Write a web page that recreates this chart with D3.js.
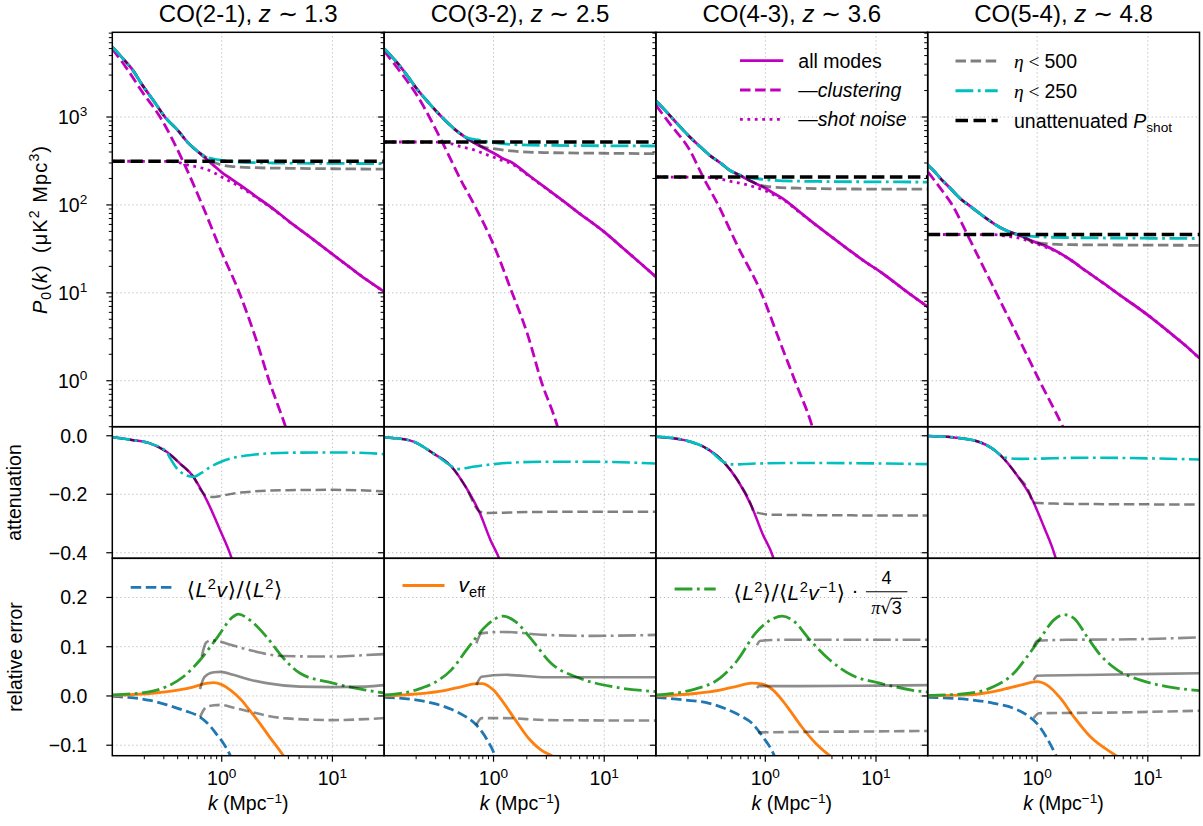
<!DOCTYPE html>
<html>
<head>
<meta charset="utf-8">
<script src="https://cdn.jsdelivr.net/npm/d3@7"></script>
<style>
  body { margin: 0; background: #fff; }
  svg text { font-family: "Liberation Sans", Arial, Helvetica, sans-serif; fill: #000; }
</style>
</head>
<body>
<svg id="fig" width="1203" height="826"></svg>
<script>
// ---------------------------------------------------------------------------
// Data: CO line-intensity power spectra, attenuation and relative errors
// for four CO transitions.  Every series is a list of [k (Mpc^-1), value].
// ---------------------------------------------------------------------------
const lineNames = ["CO(2-1)", "CO(3-2)", "CO(4-3)", "CO(5-4)"];
const redshifts = ["1.3", "2.5", "3.6", "4.8"];

const kDomain = [0.1027, 29.3];
const pDomain = [0.3, 9200];
const attDomain = [-0.419, 0.031];
const errDomain = [-0.1213, 0.2795];

const kTicks = [1, 10];
const pTicks = [1, 10, 100, 1000];
const attTicks = [0, -0.2, -0.4];
const errTicks = [-0.1, 0, 0.1, 0.2];

// unattenuated shot-noise level per line
const pShot = [314, 520, 208, 46.1];

// P0(k), all modes
const allModes = [
  [[0.103,6240],[0.118,5200],[0.135,4300],[0.155,3500],[0.19,2350],[0.25,1450],[0.31,985],[0.4,710],[0.5,505],[0.6,410],[0.72,337],[0.85,280],[1.0,235],[1.2,200],[1.45,170],[2.0,127],[3.0,88],[4.0,66],[6.0,45],[10,27.5],[15,18.7],[20,14.3],[29.3,10.3]],
  [[0.103,5990],[0.12,4900],[0.137,4040],[0.16,3150],[0.208,2010],[0.26,1450],[0.315,1110],[0.4,820],[0.477,676],[0.55,596],[0.65,520],[0.8,450],[1.0,390],[1.2,340],[1.44,308],[2.0,226],[2.88,160],[4.0,118],[5.75,83],[10,49.3],[15,31.7],[20,23.2],[29.3,15.2]],
  [[0.103,1520],[0.12,1250],[0.137,1045],[0.16,840],[0.208,593],[0.26,455],[0.315,366],[0.4,295],[0.477,248],[0.55,226],[0.629,208],[0.674,198],[0.8,178],[1.0,155],[1.2,135],[1.44,118],[2.0,85],[2.88,58.8],[4.0,43],[5.75,30.5],[8,22.5],[11.5,16.6],[18,10.8],[29.3,6.93]],
  [[0.1035,282],[0.12,235],[0.135,198],[0.16,160],[0.204,117],[0.25,96],[0.309,78.4],[0.38,65],[0.468,55],[0.55,50],[0.661,46.1],[0.8,41.5],[1.0,37],[1.2,34],[1.41,31],[2.0,23.8],[2.8,17.5],[4.0,12.8],[5.6,9.4],[7.95,6.9],[11,5.1],[15.9,3.5],[22,2.5],[29.3,1.8]]
];

// clustering contribution
const clustering = [
  [[0.103,5930],[0.136,3700],[0.192,1920],[0.28,982],[0.447,314],[0.669,99],[0.98,30.5],[1.43,10.3],[2.03,3.03],[2.68,1.0],[3.79,0.295],[4.5,0.15]],
  [[0.103,5620],[0.137,3540],[0.208,1690],[0.338,543],[0.511,188],[0.674,99],[1.02,33.3],[1.443,10.7],[2.04,3.3],[2.69,1.0],[3.8,0.295],[4.5,0.13]],
  [[0.103,1360],[0.137,840],[0.208,418],[0.274,208],[0.375,100],[0.567,33.3],[0.92,10],[1.337,2.9],[1.85,1.0],[2.63,0.313],[3.2,0.13]],
  [[0.1035,237],[0.135,152],[0.171,100],[0.234,46.1],[0.3,24.5],[0.427,10],[0.661,3.3],[1.05,1.0],[1.68,0.313],[2.2,0.15]]
];

// attenuated shot-noise contribution
const shotNoise = [
  [[0.103,314],[0.3,313],[0.4,305],[0.5,283],[0.6,270],[0.72,255],[0.85,233],[1.0,208],[1.2,185],[1.45,162],[2.0,124],[3.0,87],[4.0,65.5],[6.0,45],[10,27.5],[15,18.7],[20,14.3],[29.3,10.3]],
  [[0.103,520],[0.3,519],[0.36,514],[0.42,496],[0.477,470],[0.55,448],[0.674,420],[0.8,387],[1.0,350],[1.2,320],[1.44,297],[2.0,222],[2.88,159],[4.0,117.5],[5.75,83],[10,49.3],[15,31.7],[20,23.2],[29.3,15.2]],
  [[0.103,208],[0.3,206],[0.36,201],[0.42,194],[0.477,186],[0.55,180],[0.674,170],[0.8,160],[1.0,145],[1.2,130],[1.44,115.5],[2.0,84],[2.88,58.8],[4.0,43],[5.75,30.5],[8,22.5],[11.5,16.6],[18,10.8],[29.3,6.93]],
  [[0.1035,46.1],[0.4,46],[0.537,43.8],[0.708,41.5],[0.85,38.5],[1.0,36],[1.2,33],[1.41,30.5],[2.0,23.7],[2.8,17.5],[4.0,12.8],[5.6,9.4],[7.95,6.9],[11,5.1],[15.9,3.5],[22,2.5],[29.3,1.8]]
];

// eta-limited measurements; below the first listed k they coincide with all modes
const eta500 = [
  [[0.72,350],[0.88,300],[1.0,285],[1.3,272],[2,265],[4,261],[10,258],[29.3,255]],
  [[0.8,458],[1.0,437],[1.44,411],[2.88,394],[10,387],[29.3,383]],
  [[0.9,168],[1.2,159],[2,155],[5,152],[29.3,151]],
  [[0.9,38],[1.2,36.2],[2,35.3],[10,34.9],[29.3,34.7]]
];
const eta250 = [
  [[0.62,392],[0.72,352],[0.85,333],[1.0,322],[1.4,308],[2.9,300],[10,297],[29.3,295]],
  [[0.65,560],[0.72,550],[0.85,527],[1.0,510],[1.44,487],[2.88,476],[10,471],[29.3,468]],
  [[0.6,218],[0.75,203],[1.0,194],[1.44,188],[3,185],[10,183],[29.3,182]],
  [[0.55,50],[0.661,46.3],[1.0,43.5],[2,42.5],[10,41.8],[29.3,41.5]]
];

// attenuation, all modes
const attAll = [
  [[0.103,-0.005],[0.159,-0.015],[0.225,-0.026],[0.318,-0.055],[0.42,-0.095],[0.554,-0.14],[0.66,-0.188],[0.732,-0.22],[0.966,-0.3225],[1.23,-0.419],[1.35,-0.47]],
  [[0.103,-0.006],[0.172,-0.015],[0.288,-0.061],[0.418,-0.106],[0.561,-0.175],[0.755,-0.266],[0.942,-0.358],[1.117,-0.417],[1.2,-0.45]],
  [[0.103,-0.003],[0.186,-0.015],[0.312,-0.049],[0.419,-0.089],[0.562,-0.152],[0.755,-0.243],[0.943,-0.335],[1.176,-0.415],[1.25,-0.45]],
  [[0.1035,-0.001],[0.178,-0.006],[0.309,-0.023],[0.468,-0.067],[0.661,-0.136],[0.871,-0.206],[1.148,-0.31],[1.46,-0.414],[1.55,-0.45]]
];
// attenuation with eta cuts; below the first listed k they coincide with all modes
const attEta500 = [
  [[0.66,-0.19],[0.72,-0.205],[0.85,-0.209],[1.0,-0.205],[1.3,-0.197],[2,-0.19],[4,-0.186],[10,-0.185],[20,-0.187],[29.3,-0.19]],
  [[0.755,-0.26],[0.875,-0.264],[1.5,-0.262],[3.84,-0.26],[29.3,-0.26]],
  [[0.784,-0.26],[1.176,-0.27],[5,-0.272],[29.3,-0.273]],
  [[0.902,-0.229],[1.41,-0.232],[5,-0.234],[29.3,-0.235]]
];
const attEta250 = [
  [[0.34,-0.075],[0.4,-0.115],[0.48,-0.135],[0.56,-0.14],[0.65,-0.128],[0.8,-0.105],[1.0,-0.088],[1.4,-0.072],[2,-0.064],[4,-0.058],[10,-0.057],[20,-0.059],[29.3,-0.063]],
  [[0.402,-0.1],[0.466,-0.114],[0.55,-0.111],[0.651,-0.106],[1.015,-0.097],[2.66,-0.089],[8.07,-0.089],[29.3,-0.095]],
  [[0.419,-0.089],[0.522,-0.098],[0.813,-0.095],[2.46,-0.093],[29.3,-0.097]],
  [[0.484,-0.073],[0.708,-0.079],[2.82,-0.075],[29.3,-0.081]]
];

// relative errors of the estimators
const errL2v = [
  [[0.103,-0.001],[0.16,-0.004],[0.225,-0.009],[0.32,-0.018],[0.45,-0.029],[0.637,-0.043],[0.78,-0.06],[0.9,-0.078],[1.035,-0.096],[1.19,-0.12],[1.3,-0.14]],
  [[0.103,-0.003],[0.198,-0.008],[0.287,-0.015],[0.416,-0.027],[0.56,-0.042],[0.7,-0.059],[0.875,-0.089],[1.03,-0.121],[1.1,-0.14]],
  [[0.103,-0.003],[0.186,-0.008],[0.312,-0.015],[0.45,-0.027],[0.605,-0.041],[0.755,-0.055],[0.943,-0.082],[1.176,-0.116],[1.25,-0.13]],
  [[0.103,-0.003],[0.233,-0.007],[0.406,-0.015],[0.615,-0.025],[0.813,-0.039],[1.0,-0.056],[1.23,-0.086],[1.46,-0.118],[1.55,-0.13]]
];
const errVeff = [
  [[0.103,0.001],[0.16,0.003],[0.25,0.006],[0.35,0.01],[0.45,0.014],[0.55,0.018],[0.65,0.023],[0.75,0.026],[0.85,0.027],[1.0,0.023],[1.2,0.012],[1.5,-0.008],[1.8,-0.03],[2.2,-0.055],[2.7,-0.083],[3.2,-0.105],[3.6,-0.121],[4,-0.135]],
  [[0.103,0.0],[0.198,0.004],[0.359,0.011],[0.52,0.019],[0.7,0.025],[0.8,0.025],[0.9,0.02],[1.0,0.012],[1.18,-0.008],[1.58,-0.049],[2.13,-0.089],[2.7,-0.11],[3.33,-0.121],[4,-0.13]],
  [[0.103,0.0],[0.232,0.005],[0.389,0.012],[0.562,0.02],[0.755,0.026],[0.943,0.024],[1.176,0.012],[1.58,-0.022],[2.12,-0.062],[2.85,-0.096],[3.83,-0.121],[4.5,-0.13]],
  [[0.103,0.0],[0.233,0.002],[0.466,0.012],[0.707,0.022],[1.0,0.029],[1.23,0.022],[1.63,-0.005],[2.14,-0.042],[3.03,-0.083],[4.93,-0.118],[6,-0.13]]
];
const errRatio = [
  [[0.103,0.002],[0.225,0.009],[0.318,0.019],[0.45,0.039],[0.637,0.073],[0.9,0.117],[1.27,0.161],[1.41,0.166],[1.8,0.154],[2.54,0.12],[3.6,0.077],[5.1,0.046],[10.1,0.026],[20,0.012],[29.3,0.006]],
  [[0.103,0.002],[0.198,0.012],[0.287,0.026],[0.416,0.053],[0.6,0.1],[0.875,0.144],[1.22,0.162],[1.58,0.151],[2.13,0.119],[3.33,0.066],[6.0,0.036],[11.8,0.019],[29.3,0.009]],
  [[0.103,0.002],[0.232,0.014],[0.389,0.036],[0.562,0.073],[0.813,0.127],[1.176,0.157],[1.415,0.162],[1.83,0.151],[2.46,0.117],[3.83,0.073],[5.96,0.043],[10.8,0.026],[26.1,0.009],[29.3,0.008]],
  [[0.103,0.001],[0.233,0.005],[0.406,0.019],[0.615,0.046],[0.813,0.08],[1.07,0.117],[1.41,0.154],[1.74,0.165],[2.14,0.158],[2.83,0.12],[3.73,0.083],[5.28,0.053],[8.6,0.032],[14.9,0.019],[26,0.012],[29.3,0.011]]
];
// simulated counterparts (grey)
const simRatio = [
  [[0.66,0.08],[0.72,0.108],[0.8,0.113],[0.9,0.112],[1.2,0.104],[1.8,0.093],[3.6,0.081],[10,0.08],[20,0.083],[29.3,0.085]],
  [[0.7,0.107],[0.78,0.127],[1.22,0.13],[2.9,0.124],[8,0.122],[29.3,0.124]],
  [[0.84,0.103],[0.9,0.112],[1.5,0.114],[5,0.114],[29.3,0.114]],
  [[0.93,0.1],[1.0,0.112],[1.86,0.114],[7,0.115],[29.3,0.119]]
];
const simVeff = [
  [[0.637,0.014],[0.68,0.034],[0.75,0.044],[0.85,0.048],[0.97,0.049],[1.27,0.043],[1.8,0.033],[2.54,0.026],[5.1,0.019],[10,0.018],[20,0.019],[29.3,0.022]],
  [[0.7,0.022],[0.78,0.039],[1.27,0.043],[3,0.038],[29.3,0.038]],
  [[0.84,0.016],[0.88,0.02],[2,0.02],[10,0.021],[29.3,0.022]],
  [[0.93,0.032],[1.0,0.041],[3.7,0.043],[29.3,0.046]]
];
const simL2v = [
  [[0.637,-0.043],[0.68,-0.03],[0.75,-0.021],[0.85,-0.019],[0.97,-0.018],[1.3,-0.024],[1.8,-0.032],[3.6,-0.045],[10,-0.049],[20,-0.047],[29.3,-0.045]],
  [[0.7,-0.059],[0.78,-0.045],[1.27,-0.045],[3,-0.049],[29.3,-0.05]],
  [[0.86,-0.074],[2,-0.073],[10,-0.072],[29.3,-0.071]],
  [[0.93,-0.045],[1.04,-0.035],[3.7,-0.034],[29.3,-0.03]]
];

// ---------------------------------------------------------------------------
// Layout and styles
// ---------------------------------------------------------------------------
const colLeft = [112.3, 384.1, 655.9, 927.7];
const panelW = 271.8;
const rowTop = [32.3, 426.7, 558.3];
const rowH = [394.4, 131.6, 197.4];
const FS = 19.5;
const MATH_FS = 21;

const MAGENTA = "#bf00bf", CYAN = "#00bfbf", BLUE = "#1f77b4", ORANGE = "#ff7f0e", GREEN = "#2ca02c";
const DASH = "10.5,4.6", DOT = "2.8,4.6", DASHDOT = "17.8,4.5,2.8,4.5", BLACKDASH = "12.5,5.5";

const x = d3.scaleLog().domain(kDomain).range([0, panelW]);
const yTop = d3.scaleLog().domain(pDomain).range([rowH[0], 0]);
const yMid = d3.scaleLinear().domain(attDomain).range([rowH[1], 0]);
const yBot = d3.scaleLinear().domain(errDomain).range([rowH[2], 0]);

const svg = d3.select("#fig");

function withPrefix(base, tail) {
  return base.filter(d => d[0] < tail[0][0]).concat(tail);
}

function richText(parent, parts, attrs) {
  const t = parent.append("text");
  Object.entries(attrs).forEach(([k, v]) => t.attr(k, v));
  const fs = attrs["font-size"] || FS;
  let shift = 0;
  parts.forEach(p => {
    const s = p.sup ? -0.38 * fs : p.sub ? 0.22 * fs : 0;
    const ts = t.append("tspan").text(p.t).attr("dy", s - shift);
    shift = s;
    if (p.sup || p.sub) ts.attr("font-size", fs * 0.7);
    if (p.it) ts.attr("font-style", "italic");
    if (p.ff) ts.style("font-family", p.ff);
  });
  return t;
}

function makePanel(c, r) {
  const g = svg.append("g").attr("transform", `translate(${colLeft[c]},${rowTop[r]})`);
  const id = `clip-${r}-${c}`;
  g.append("clipPath").attr("id", id).append("rect").attr("width", panelW).attr("height", rowH[r]);
  return {
    g,
    grid: g.append("g"),
    plot: g.append("g").attr("clip-path", `url(#${id})`),
    frame: g.append("g")
  };
}

function drawSeries(plot, yScale, pts, color, w, dash, opacity) {
  const line = d3.line().x(d => x(d[0])).y(d => yScale(d[1])).curve(d3.curveMonotoneX);
  plot.append("path")
    .attr("d", line(pts))
    .attr("fill", "none")
    .attr("stroke", color)
    .attr("stroke-width", w)
    .attr("stroke-dasharray", dash || null)
    .attr("stroke-opacity", opacity == null ? 1 : opacity)
    .attr("stroke-linejoin", "round");
}

function drawGrid(p, yScale, yVals, h) {
  kTicks.forEach(k => {
    p.grid.append("line").attr("x1", x(k)).attr("x2", x(k)).attr("y1", 0).attr("y2", h)
      .attr("stroke", "#b8b8b8").attr("stroke-width", 1).attr("stroke-dasharray", "1.2,2.8");
  });
  yVals.forEach(v => {
    p.grid.append("line").attr("x1", 0).attr("x2", panelW).attr("y1", yScale(v)).attr("y2", yScale(v))
      .attr("stroke", "#b8b8b8").attr("stroke-width", 1).attr("stroke-dasharray", "1.2,2.8");
  });
}

function drawFrame(p, h) {
  p.frame.append("rect").attr("width", panelW).attr("height", h)
    .attr("fill", "none").attr("stroke", "#000").attr("stroke-width", 1.5);
}

function leftTicks(p, yScale, major, minor) {
  major.forEach(v => p.frame.append("line").attr("x1", -6).attr("x2", 0)
    .attr("y1", yScale(v)).attr("y2", yScale(v)).attr("stroke", "#000").attr("stroke-width", 1.2));
  minor.forEach(v => p.frame.append("line").attr("x1", -3.5).attr("x2", 0)
    .attr("y1", yScale(v)).attr("y2", yScale(v)).attr("stroke", "#000").attr("stroke-width", 1));
}

function logMinor(lo, hi) {
  const out = [];
  for (let e = -2; e <= 4; e++) {
    for (let m = 2; m <= 9; m++) {
      const v = m * Math.pow(10, e);
      if (v >= lo && v <= hi) out.push(v);
    }
  }
  return out;
}

const fmtLin = v => (v < 0 ? "\u2212" : "") + Math.abs(v).toFixed(1);

// ---------------------------------------------------------------------------
// Panels
// ---------------------------------------------------------------------------
for (let c = 0; c < 4; c++) {
  // ---- power spectrum ----
  const pT = makePanel(c, 0);
  drawGrid(pT, yTop, pTicks, rowH[0]);
  drawSeries(pT.plot, yTop, allModes[c], MAGENTA, 2.8);
  drawSeries(pT.plot, yTop, clustering[c], MAGENTA, 2.8, DASH);
  drawSeries(pT.plot, yTop, shotNoise[c], MAGENTA, 2.8, DOT);
  drawSeries(pT.plot, yTop, withPrefix(allModes[c], eta500[c]), "#000", 2.8, DASH, 0.5);
  drawSeries(pT.plot, yTop, withPrefix(allModes[c], eta250[c]), CYAN, 2.8, DASHDOT);
  drawSeries(pT.plot, yTop, [[kDomain[0], pShot[c]], [kDomain[1], pShot[c]]], "#000", 3.4, BLACKDASH);
  drawFrame(pT, rowH[0]);
  leftTicks(pT, yTop, pTicks, logMinor(pDomain[0], pDomain[1]));

  // ---- attenuation ----
  const pM = makePanel(c, 1);
  drawGrid(pM, yMid, attTicks, rowH[1]);
  drawSeries(pM.plot, yMid, attAll[c], MAGENTA, 2.5);
  drawSeries(pM.plot, yMid, withPrefix(attAll[c], attEta500[c]), "#000", 2.5, DASH, 0.5);
  drawSeries(pM.plot, yMid, withPrefix(attAll[c], attEta250[c]), CYAN, 2.6, DASHDOT);
  drawFrame(pM, rowH[1]);
  leftTicks(pM, yMid, attTicks, []);

  // ---- relative error ----
  const pB = makePanel(c, 2);
  drawGrid(pB, yBot, errTicks, rowH[2]);
  drawSeries(pB.plot, yBot, errL2v[c], BLUE, 2.8, DASH);
  drawSeries(pB.plot, yBot, errVeff[c], ORANGE, 2.8);
  drawSeries(pB.plot, yBot, errRatio[c], GREEN, 2.8, DASHDOT);
  drawSeries(pB.plot, yBot, simRatio[c], "#000", 2.6, DASHDOT, 0.45);
  drawSeries(pB.plot, yBot, simVeff[c], "#000", 2.6, null, 0.45);
  drawSeries(pB.plot, yBot, simL2v[c], "#000", 2.6, DASH, 0.45);
  drawFrame(pB, rowH[2]);
  leftTicks(pB, yBot, errTicks, []);

  // bottom x ticks
  const hB = rowH[2];
  kTicks.forEach(k => pB.frame.append("line").attr("x1", x(k)).attr("x2", x(k))
    .attr("y1", hB).attr("y2", hB + 6).attr("stroke", "#000").attr("stroke-width", 1.2));
  logMinor(kDomain[0], kDomain[1]).forEach(k => pB.frame.append("line").attr("x1", x(k)).attr("x2", x(k))
    .attr("y1", hB).attr("y2", hB + 3.5).attr("stroke", "#000").attr("stroke-width", 1));
  kTicks.forEach(k => {
    richText(pB.g, [{t: "10"}, {t: String(Math.round(Math.log10(k))), sup: true}],
      {x: x(k), y: hB + 29.5, "text-anchor": "middle", "font-size": FS});
  });
  richText(pB.g, [{t: "k", it: true}, {t: " (Mpc"}, {t: "\u22121", sup: true}, {t: ")"}],
    {x: panelW / 2, y: hB + 54.5, "text-anchor": "middle", "font-size": FS});

  // column title
  richText(svg, [{t: lineNames[c] + ", "}, {t: "z", it: true}, {t: " \u223c " + redshifts[c]}],
    {x: colLeft[c] + panelW / 2, y: 21.5, "text-anchor": "middle", "font-size": 24});

  // y tick labels on the first column
  if (c === 0) {
    pTicks.forEach(v => richText(pT.g, [{t: "10"}, {t: String(Math.round(Math.log10(v))), sup: true}],
      {x: -25, y: yTop(v) + 6.8, "text-anchor": "end", "font-size": FS}));
    attTicks.forEach(v => pM.g.append("text").text(fmtLin(v)).attr("x", -25).attr("y", yMid(v) + 6.8)
      .attr("text-anchor", "end").attr("font-size", FS));
    errTicks.forEach(v => pB.g.append("text").text(fmtLin(v)).attr("x", -25).attr("y", yBot(v) + 6.8)
      .attr("text-anchor", "end").attr("font-size", FS));
  }
}

// ---------------------------------------------------------------------------
// Axis labels
// ---------------------------------------------------------------------------
richText(svg, [{t: "P", it: true}, {t: "0", sub: true}, {t: "("}, {t: "k", it: true}, {t: ")\u2002(\u03bcK"},
  {t: "2", sup: true}, {t: " Mpc"}, {t: "3", sup: true}, {t: ")"}],
  {"text-anchor": "middle", "font-size": 20, "letter-spacing": 1.1,
   transform: `translate(47,${rowTop[0] + rowH[0] / 2}) rotate(-90)`});
svg.append("text").text("attenuation").attr("text-anchor", "middle").attr("font-size", FS)
  .attr("transform", `translate(21,${rowTop[1] + rowH[1] / 2}) rotate(-90)`);
svg.append("text").text("relative error").attr("text-anchor", "middle").attr("font-size", FS)
  .attr("transform", `translate(22,${rowTop[2] + rowH[2] / 2}) rotate(-90)`);

// ---------------------------------------------------------------------------
// Legends
// ---------------------------------------------------------------------------
function legendLine(x0, x1, y, color, w, dash, opacity) {
  svg.append("line").attr("x1", x0).attr("x2", x1).attr("y1", y).attr("y2", y)
    .attr("stroke", color).attr("stroke-width", w).attr("stroke-dasharray", dash || null)
    .attr("stroke-opacity", opacity == null ? 1 : opacity);
}

// spectrum components (third column)
const legA = [
  {parts: [{t: "all modes"}], color: MAGENTA, dash: null},
  {parts: [{t: "\u2014"}, {t: "clustering", it: true}], color: MAGENTA, dash: DASH},
  {parts: [{t: "\u2014"}, {t: "shot noise", it: true}], color: MAGENTA, dash: DOT}
];
legA.forEach((e, i) => {
  const y = 60.7 + i * 29.3;
  legendLine(colLeft[2] + 84.1, colLeft[2] + 127.4, y, e.color, 2.8, e.dash);
  richText(svg, e.parts, {x: colLeft[2] + 142.4, y: y + 7, "font-size": FS});
});

// eta cuts (fourth column)
const SERIF = "'Liberation Serif', 'DejaVu Serif', serif";
const legB = [
  {parts: [{t: "\u03b7", it: true, ff: SERIF}, {t: " < ", ff: SERIF}, {t: "500"}], color: "#000", dash: DASH, op: 0.5, w: 2.8},
  {parts: [{t: "\u03b7", it: true, ff: SERIF}, {t: " < ", ff: SERIF}, {t: "250"}], color: CYAN, dash: DASHDOT, w: 2.8},
  {parts: [{t: "unattenuated "}, {t: "P", it: true}, {t: "shot", sub: true}], color: "#000", dash: BLACKDASH, w: 3.4}
];
legB.forEach((e, i) => {
  const y = 61 + i * 29.75;
  legendLine(colLeft[3] + 27.8, colLeft[3] + 70, y, e.color, e.w, e.dash, e.op);
  richText(svg, e.parts, {x: colLeft[3] + 86.3, y: y + 7, "font-size": FS});
});

// estimator legends (bottom row)
const ANG = "'DejaVu Sans', sans-serif";
legendLine(colLeft[0] + 18.4, colLeft[0] + 60.4, 587.3, BLUE, 2.8, DASH);
richText(svg, [{t: "\u27e8", ff: ANG}, {t: "L", it: true}, {t: "2", sup: true}, {t: "v", it: true},
  {t: "\u27e9/\u27e8", ff: ANG}, {t: "L", it: true}, {t: "2", sup: true}, {t: "\u27e9", ff: ANG}],
  {x: colLeft[0] + 74.4, y: 596.7, "font-size": MATH_FS, "letter-spacing": 0.6});

legendLine(colLeft[1] + 18.4, colLeft[1] + 60.4, 585.5, ORANGE, 2.8, null);
richText(svg, [{t: "v", it: true}, {t: "eff", sub: true}],
  {x: colLeft[1] + 74.4, y: 592, "font-size": MATH_FS});

legendLine(colLeft[2] + 18.7, colLeft[2] + 59.8, 589, GREEN, 2.8, DASHDOT);
richText(svg, [{t: "\u27e8", ff: ANG}, {t: "L", it: true}, {t: "2", sup: true}, {t: "\u27e9/\u27e8", ff: ANG},
  {t: "L", it: true}, {t: "2", sup: true}, {t: "v", it: true}, {t: "\u22121", sup: true}, {t: "\u27e9", ff: ANG}],
  {x: colLeft[2] + 77.7, y: 600, "font-size": MATH_FS, "letter-spacing": 0.4});
svg.append("text").text("\u00b7").attr("x", colLeft[2] + 199).attr("y", 597).attr("text-anchor", "middle")
  .attr("font-size", MATH_FS);
// fraction 4 / (pi sqrt 3)
const fracX = colLeft[2] + 230.5;
svg.append("text").text("4").attr("x", fracX).attr("y", 583.5).attr("text-anchor", "middle").attr("font-size", 18);
svg.append("line").attr("x1", fracX - 20.5).attr("x2", fracX + 21).attr("y1", 591.7).attr("y2", 591.7)
  .attr("stroke", "#000").attr("stroke-width", 1.1);
const den = richText(svg, [{t: "\u03c0", it: true, ff: SERIF}, {t: "\u221a", ff: ANG}, {t: "3"}],
  {x: fracX, y: 613.5, "text-anchor": "middle", "font-size": 18});
const denBox = den.node().getBBox();
svg.append("line").attr("x1", denBox.x + denBox.width - 11).attr("x2", denBox.x + denBox.width)
  .attr("y1", 598.3).attr("y2", 598.3).attr("stroke", "#000").attr("stroke-width", 1.1);
</script>
</body>
</html>
